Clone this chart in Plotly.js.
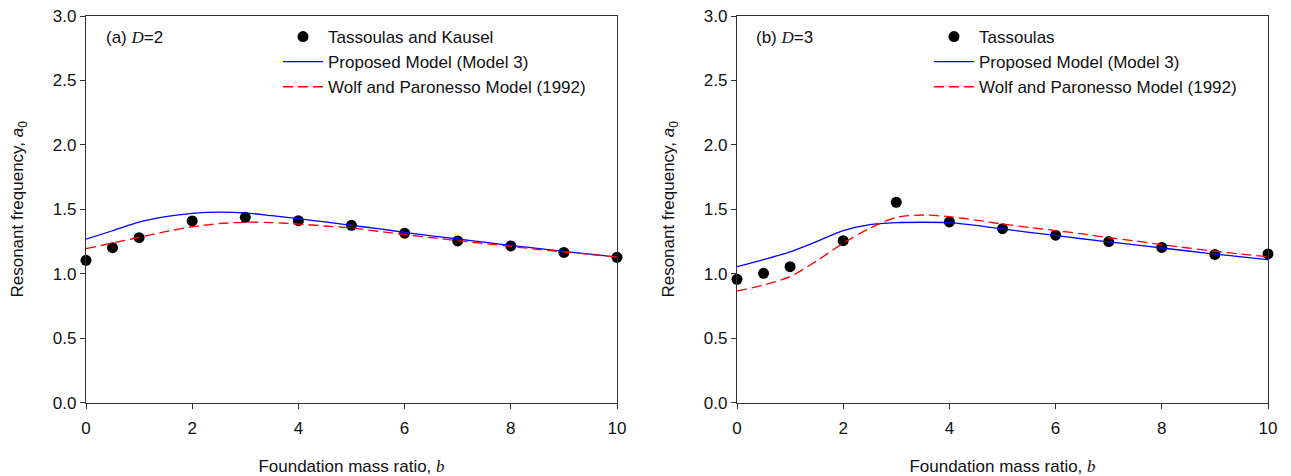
<!DOCTYPE html>
<html>
<head>
<meta charset="utf-8">
<script src="https://cdn.plot.ly/plotly-3.0.1.min.js"></script>
<style>html,body{margin:0;padding:0;background:#fff;}#chart{width:1291px;height:476px;}</style>
</head>
<body>
<div id="chart"></div>
<script>
// ---- data ----
const pointsB = [0, 0.5, 1, 2, 3, 4, 5, 6, 7, 8, 9, 10];
const tassoulasKausel_D2 = [1.105, 1.203, 1.28, 1.41, 1.438, 1.412, 1.376, 1.315, 1.255, 1.216, 1.166, 1.128];
const tassoulas_D3 = [0.957, 1.004, 1.055, 1.257, 1.555, 1.402, 1.35, 1.30, 1.25, 1.205, 1.15, 1.154];

const curveB = [0, 0.5, 1, 1.5, 2, 2.5, 3, 3.5, 4, 4.5, 5, 5.5, 6, 6.5, 7, 7.5, 8, 8.5, 9, 9.5, 10];
const proposed_D2 = [1.268, 1.334, 1.40, 1.443, 1.469, 1.479, 1.472, 1.451, 1.428, 1.402, 1.376, 1.35, 1.322, 1.295, 1.27, 1.245, 1.22, 1.197, 1.174, 1.152, 1.13];
const wolf_D2 = [1.195, 1.239, 1.283, 1.327, 1.365, 1.389, 1.40, 1.397, 1.386, 1.371, 1.355, 1.33, 1.305, 1.28, 1.257, 1.235, 1.213, 1.19, 1.17, 1.15, 1.13];
const proposed_D3 = [1.055, 1.11, 1.17, 1.25, 1.335, 1.382, 1.397, 1.40, 1.397, 1.376, 1.348, 1.322, 1.298, 1.272, 1.248, 1.225, 1.20, 1.177, 1.153, 1.132, 1.11];
const wolf_D3 = [0.866, 0.913, 0.978, 1.100, 1.237, 1.353, 1.438, 1.456, 1.443, 1.417, 1.386, 1.36, 1.335, 1.31, 1.28, 1.255, 1.225, 1.20, 1.175, 1.153, 1.132];

const xTickVals = [0, 2, 4, 6, 8, 10];
const yTickVals = [0, 0.5, 1.0, 1.5, 2.0, 2.5, 3.0];
const yTickText = ['0.0', '0.5', '1.0', '1.5', '2.0', '2.5', '3.0'];

const labelPoints1 = 'Tassoulas and Kausel';
const labelPoints2 = 'Tassoulas';
const labelProposed = 'Proposed Model (Model 3)';
const labelWolf = 'Wolf and Paronesso Model (1992)';

// ---- styles ----
const FONT = 'Liberation Sans, Arial, sans-serif';
const AXC = '#333';
const markerStyle = {color: '#000', size: 11, symbol: 'circle'};
const blueLine = {color: '#0000ff', width: 1.3, shape: 'spline', smoothing: 0.8};
const redLine = {color: '#ff0000', width: 1.3, dash: '10px,5px', shape: 'spline', smoothing: 0.8};

const traces = [
  {x: pointsB, y: tassoulasKausel_D2, xaxis: 'x', yaxis: 'y', mode: 'markers', marker: markerStyle, name: labelPoints1, legend: 'legend', cliponaxis: false},
  {x: curveB, y: proposed_D2, xaxis: 'x', yaxis: 'y', mode: 'lines', line: blueLine, name: labelProposed, legend: 'legend'},
  {x: curveB, y: wolf_D2, xaxis: 'x', yaxis: 'y', mode: 'lines', line: redLine, name: labelWolf, legend: 'legend'},
  {x: pointsB, y: tassoulas_D3, xaxis: 'x2', yaxis: 'y2', mode: 'markers', marker: markerStyle, name: labelPoints2, legend: 'legend2', cliponaxis: false},
  {x: curveB, y: proposed_D3, xaxis: 'x2', yaxis: 'y2', mode: 'lines', line: blueLine, name: labelProposed, legend: 'legend2'},
  {x: curveB, y: wolf_D3, xaxis: 'x2', yaxis: 'y2', mode: 'lines', line: redLine, name: labelWolf, legend: 'legend2'}
];

const W = 1291, H = 476;
const yDom = [1 - 402.7 / H, 1 - 16 / H];

function xAxis(dom) {
  return {
    domain: dom, range: [0, 10], tickvals: xTickVals, ticks: 'outside', ticklen: 5, tickwidth: 1, tickcolor: AXC,
    showline: true, linecolor: AXC, linewidth: 1.2, mirror: true, showgrid: false, zeroline: false,
    tickfont: {family: FONT, size: 17, color: '#111'}, ticklabelstandoff: 5,
    title: {text: 'Foundation mass ratio, <span style="font-family:Liberation Serif"><i>b</i></span>', font: {family: FONT, size: 17, color: '#111'}, standoff: 22},
    automargin: false, fixedrange: true
  };
}
function yAxis(anchor) {
  return {
    domain: yDom, anchor: anchor, range: [0, 3], tickvals: yTickVals, ticktext: yTickText, ticks: 'outside', ticklen: 5, tickwidth: 1, tickcolor: AXC,
    showline: true, linecolor: AXC, linewidth: 1.2, mirror: true, showgrid: false, zeroline: false,
    tickfont: {family: FONT, size: 17, color: '#111'},
    title: {text: 'Resonant frequency, <i>a</i><sub>0</sub>', font: {family: FONT, size: 17, color: '#111'}, standoff: 24},
    automargin: false, fixedrange: true
  };
}

const legendBase = {
  font: {family: FONT, size: 17, color: '#111'}, bgcolor: 'rgba(0,0,0,0)', borderwidth: 0,
  xanchor: 'left', yanchor: 'top', tracegroupgap: 0, itemwidth: 40
};

const layout = {
  width: W, height: H,
  margin: {l: 0, r: 0, t: 0, b: 0},
  paper_bgcolor: '#fff', plot_bgcolor: '#fff',
  showlegend: true,
  xaxis: Object.assign(xAxis([86 / W, 617 / W]), {anchor: 'y'}),
  yaxis: yAxis('x'),
  xaxis2: Object.assign(xAxis([737 / W, 1268 / W]), {anchor: 'y2'}),
  yaxis2: yAxis('x2'),
  legend: Object.assign({}, legendBase, {x: 278 / W, y: 1 - 19 / H}),
  legend2: Object.assign({}, legendBase, {x: 929 / W, y: 1 - 19 / H}),
  annotations: [
    {text: '(a) <span style="font-family:Liberation Serif"><i>D</i></span>=2', xref: 'x domain', yref: 'y domain', x: (104 - 86) / 531, y: (402.7 - 37) / 386.7, xanchor: 'left', yanchor: 'middle', showarrow: false, font: {family: FONT, size: 17, color: '#111'}},
    {text: '(b) <span style="font-family:Liberation Serif"><i>D</i></span>=3', xref: 'x2 domain', yref: 'y2 domain', x: (754 - 737) / 531, y: (402.7 - 37) / 386.7, xanchor: 'left', yanchor: 'middle', showarrow: false, font: {family: FONT, size: 17, color: '#111'}}
  ]
};

Plotly.newPlot('chart', traces, layout, {displayModeBar: false, staticPlot: true});
</script>
</body>
</html>
